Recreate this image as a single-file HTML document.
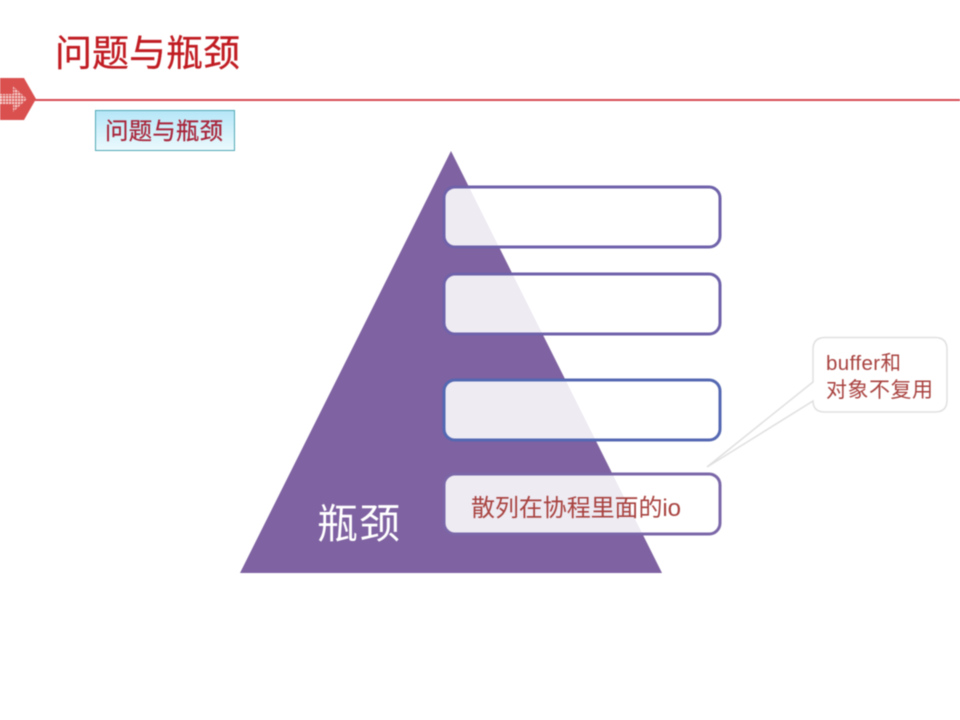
<!DOCTYPE html>
<html><head><meta charset="utf-8"><style>
html,body{margin:0;padding:0;background:#fff}
svg{display:block;filter:blur(.5px)}
text{font-family:"Liberation Sans","Noto Sans CJK SC",sans-serif}
</style></head><body>
<svg width="960" height="720" viewBox="0 0 960 720" xmlns="http://www.w3.org/2000/svg">
<defs>
<linearGradient id="g" x1="0" y1="0" x2="0" y2="1"><stop offset="0" stop-color="#b5e6f8"/><stop offset="1" stop-color="#ecfafd"/></linearGradient>
<pattern id="d" width="3" height="3" patternUnits="userSpaceOnUse"><rect width="2.2" height="2.2" fill="#f7d2ce"/></pattern>
</defs>
<rect width="960" height="720" fill="#fff"/>
<text x="55" y="66" font-size="37" fill="#c01c22" stroke="#c01c22" stroke-width=".3" textLength="185" lengthAdjust="spacing">问题与瓶颈</text>
<line x1="34" y1="100" x2="960" y2="100" stroke="#d84a55" stroke-width="2"/>
<polygon points="0,78 24,78 36,99 24,120 0,120" fill="#d9504f"/>
<polygon points="0,94 13,94 13,86 27,99 13,112 13,104 0,104" fill="url(#d)"/>
<rect x="95.5" y="110.5" width="139" height="40" fill="url(#g)" stroke="#4fa8b4"/>
<text x="105" y="139" font-size="23.5" fill="#a8243a" stroke="#a8243a" stroke-width=".25" textLength="118" lengthAdjust="spacing">问题与瓶颈</text>
<polygon points="451,151 240,573 662,573" fill="#7f62a1"/>
<g fill="#fff" fill-opacity=".87" stroke-width="3">
<rect x="444" y="187" width="276" height="60" rx="11" stroke="#6f62aa"/>
<rect x="444" y="274" width="276" height="60" rx="11" stroke="#6f62aa"/>
<rect x="444" y="380" width="276" height="60" rx="11" stroke="#5468b2"/>
<rect x="444" y="474" width="276" height="60" rx="11" stroke="#7b67a8"/>
</g>
<text x="317" y="538" font-size="41" fill="#fff" textLength="83" lengthAdjust="spacing">瓶颈</text>
<text x="471" y="516" font-size="24" fill="#a8423f" textLength="210" lengthAdjust="spacing">散列在协程里面的io</text>
<path d="M825,337.5 H935 Q947,337.5 947,349.5 V400 Q947,412 935,412 H825 Q813,412 813,401 L707,467 L813,382 V349.5 Q813,337.5 825,337.5 Z" fill="#fff" stroke="#e0e0e0" stroke-width="1.5"/>
<text x="826" y="370" font-size="20.5" fill="#a8423f" textLength="75" lengthAdjust="spacing">buffer和</text>
<text x="826" y="397" font-size="21" fill="#a8423f" textLength="107" lengthAdjust="spacing">对象不复用</text>
</svg>
</body></html>
